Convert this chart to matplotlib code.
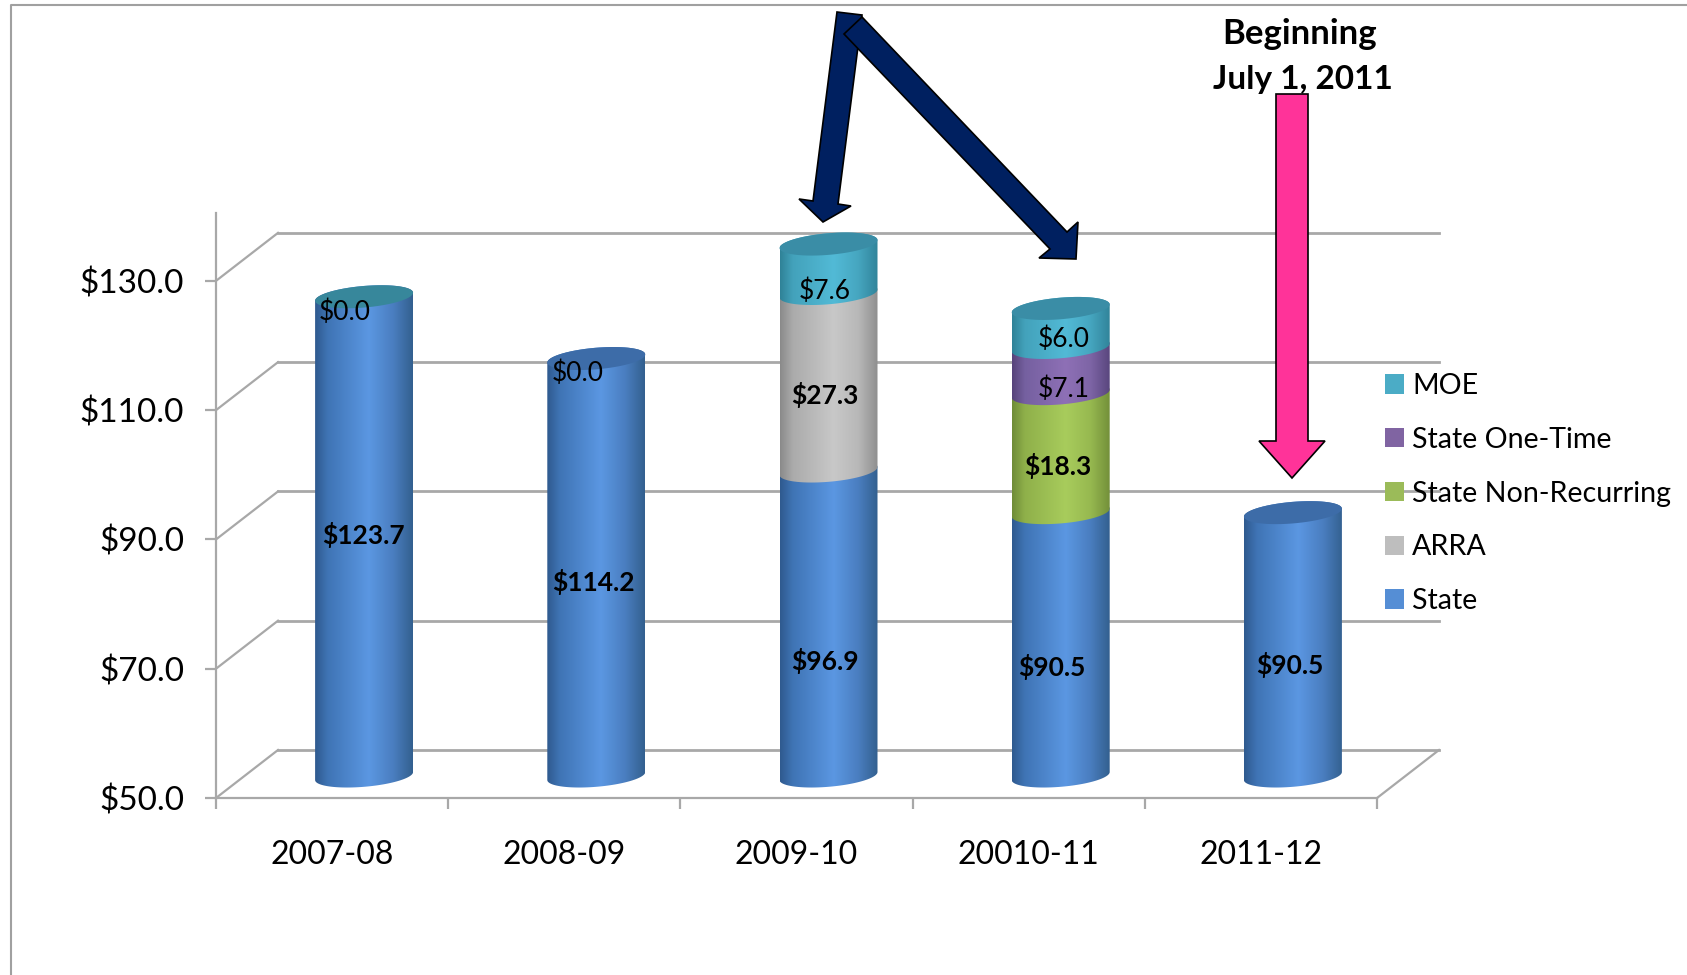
import numpy as np
import matplotlib
matplotlib.use("Agg")
import matplotlib.pyplot as plt
from matplotlib.colors import LinearSegmentedColormap
from matplotlib.lines import Line2D
from matplotlib.patches import Patch, Polygon
from matplotlib.transforms import IdentityTransform

# ---------- data ----------
CATEGORIES = ["2007-08", "2008-09", "2009-10", "20010-11", "2011-12"]
STATE = [123.7, 114.2, 96.9, 90.5, 90.5]
ARRA = [0, 0, 27.3, 0, 0]
NON_RECURRING = [0, 0, 0, 18.3, 0]
ONE_TIME = [0, 0, 0, 7.1, 0]
MOE = [0.0, 0.0, 7.6, 6.0, 0]
SERIES_NAMES = ["State", "ARRA", "State Non-Recurring", "State One-Time", "MOE"]
Y_TICKS = [50, 70, 90, 110, 130]

# ---------- style ----------
W, H = 1687, 975
plt.rcParams["font.family"] = ["Lato", "DejaVu Sans"]
GRID = "#A8A8A8"
GRADIENTS = [
    ["#2F5A8E", "#3F74B5", "#5B97E2", "#4A7EC0", "#33608F"],
    ["#8A8A8A", "#ABABAB", "#C8C8C8", "#B8B8B8", "#8F8F8F"],
    ["#6F8C38", "#8FB04A", "#A8CC5C", "#97B950", "#73903A"],
    ["#56437A", "#7560A0", "#8E70B6", "#7E65A6", "#59467E"],
    ["#2F8297", "#43A2BB", "#52BAD6", "#46A6C0", "#31849A"],
]
LEGEND_COLORS = ["#558ED5", "#BEBEBE", "#9BBB59", "#8064A2", "#4BACC6"]
CAP_COLORS = ["#37879B", "#3D6CA8", "#3A8DA6", "#3A8DA6", "#3D6CA8"]
BAND_STOPS = [0.0, 0.13, 0.55, 0.8, 1.0]

fig = plt.figure(figsize=(W / 100, H / 100), dpi=100)
AX_L, AX_R, AX_B, AX_T = 216, 1377, 798, 213
ax = fig.add_axes([AX_L / W, 1 - AX_B / H, (AX_R - AX_L) / W, (AX_B - AX_T) / H])
XMAX, YMIN, YMAX = 5, 50, 140.5
ax.set_xlim(0, XMAX)
ax.set_ylim(YMIN, YMAX)
ax.patch.set_alpha(0)

PX_X = (AX_R - AX_L) / XMAX
PX_Y = (AX_B - AX_T) / (YMAX - YMIN)
DEPTH_X, DEPTH_Y = 62 / PX_X, 48 / PX_Y
BAR_DX, BAR_DY = 32 / PX_X, 22 / PX_Y
BAR_SCALE = 1.006
RX, RY, TILT = 49 / PX_X, 10.8 / PX_Y, 4 / PX_Y

for s in ("top", "right"):
    ax.spines[s].set_visible(False)
for s in ("left", "bottom"):
    ax.spines[s].set_color(GRID)
    ax.spines[s].set_linewidth(1.6)
ax.set_xticks(range(XMAX + 1))
ax.set_xticklabels([])
ax.set_yticks(Y_TICKS)
ax.set_yticklabels([f"${v:.1f}" for v in Y_TICKS], fontsize=24)
ax.tick_params(axis="both", color=GRID, width=1.6, length=8, pad=15)
ax.set_xticks([i + 0.5 for i in range(len(CATEGORIES))], CATEGORIES, minor=True, fontsize=23)
ax.tick_params(axis="x", which="minor", length=0, pad=30)

# back wall and floor
for v in Y_TICKS:
    ax.plot([DEPTH_X, XMAX + DEPTH_X], [v + DEPTH_Y] * 2, color=GRID, lw=2.0, clip_on=False, zorder=1)
    ax.plot([0, DEPTH_X], [v, v + DEPTH_Y], color=GRID, lw=1.6, clip_on=False, zorder=1)
ax.plot([XMAX, XMAX + DEPTH_X], [YMIN, YMIN + DEPTH_Y], color=GRID, lw=1.6, clip_on=False, zorder=1)


def arc(cx, cy, t0, t1):
    t = np.linspace(t0, t1, 60)
    return np.c_[cx + RX * np.cos(t), cy + RY * np.sin(t) + TILT * np.cos(t)]


def bar_y(v):
    return YMIN + BAR_DY + BAR_SCALE * (v - YMIN)


def cylinder(cx, v0, v1, colors):
    y0, y1 = bar_y(v0), bar_y(v1)
    verts = np.vstack([arc(cx, y0, np.pi, 2 * np.pi), arc(cx, y1, 0, np.pi)])
    patch = Polygon(verts, closed=True, fc="none", ec="none", transform=ax.transData)
    ax.add_patch(patch)
    cmap = LinearSegmentedColormap.from_list("c", list(zip(BAND_STOPS, colors)))
    im = ax.imshow(np.linspace(0, 1, 256)[None, :], cmap=cmap, aspect="auto", interpolation="bilinear",
                   extent=[cx - RX, cx + RX, y0 - RY - TILT, y1 + RY + TILT], zorder=3)
    im.set_clip_path(patch)


stack = [STATE, ARRA, NON_RECURRING, ONE_TIME, MOE]
for i in range(len(CATEGORIES)):
    cx = i + 0.5 + BAR_DX
    base = YMIN
    for values, colors in zip(stack, GRADIENTS):
        if values[i] > 0:
            top = (base if base > YMIN else 0) + values[i]
            cylinder(cx, base, top, colors)
            base = top
    ax.add_patch(Polygon(arc(cx, bar_y(base), 0, 2 * np.pi), closed=True, fc=CAP_COLORS[i], ec="none", zorder=3.5))
ax.set_xlim(0, XMAX)
ax.set_ylim(YMIN, YMAX)


def P(pts):
    return [(x, H - y) for x, y in pts]


# data labels: text, bold, reference position
LABELS = [
    ("$0.0", False, 345, 312), ("$0.0", False, 578, 373),
    ("$123.7", True, 363, 535), ("$114.2", True, 593, 582),
    ("$96.9", True, 825, 661), ("$27.3", True, 825, 395), ("$7.6", False, 825, 291),
    ("$90.5", True, 1052, 667), ("$18.3", True, 1058, 466), ("$7.1", False, 1064, 389),
    ("$6.0", False, 1064, 339), ("$90.5", True, 1290, 665),
]
for text, bold, x, y in LABELS:
    fig.text(x, H - y, text, transform=IdentityTransform(), ha="center", va="center",
             fontsize=19, fontweight="bold" if bold else "normal", color="black", zorder=6)

# legend (top to bottom reversed stack order)
handles = [Patch(fc=c, ec="none", label=n) for c, n in zip(LEGEND_COLORS, SERIES_NAMES)][::-1]
leg = fig.legend(handles=handles, loc="upper left", bbox_to_anchor=(1385 / W, 1 - 373 / H),
                 frameon=False, fontsize=20.6, handlelength=0.66, handleheight=0.66,
                 handletextpad=0.28, labelspacing=0.97, borderpad=0, borderaxespad=0)

# arrows
NAVY = "#002060"
ARROW_1 = [(837, 12), (862, 15), (838, 204), (851, 206), (823, 222), (799, 199), (813, 201)]
ARROW_2 = [(862, 17), (844, 34), (1050, 249), (1039, 258), (1076, 259), (1078, 222), (1067, 232)]
PINK = [(1276, 94), (1308, 94), (1308, 441), (1325, 441), (1292, 478), (1259, 441), (1276, 441)]
for pts, col in ((ARROW_1, NAVY), (ARROW_2, NAVY), (PINK, "#FF3399")):
    fig.add_artist(Polygon(P(pts), closed=True, fc=col, ec="black", lw=1.2, transform=IdentityTransform(), zorder=7))

fig.text(1300, H - 34, "Beginning", transform=IdentityTransform(), ha="center", va="center",
         fontsize=25, fontweight="bold", zorder=8)
fig.text(1303, H - 79, "July 1, 2011", transform=IdentityTransform(), ha="center", va="center",
         fontsize=24, fontweight="bold", zorder=8)

# outer frame of the pasted chart
fig.add_artist(Line2D([11, 11, W], [0, H - 5, H - 5], color="#A0A0A0", lw=1.5, transform=IdentityTransform()))

fig.savefig("out.png", dpi=100, facecolor="white")
